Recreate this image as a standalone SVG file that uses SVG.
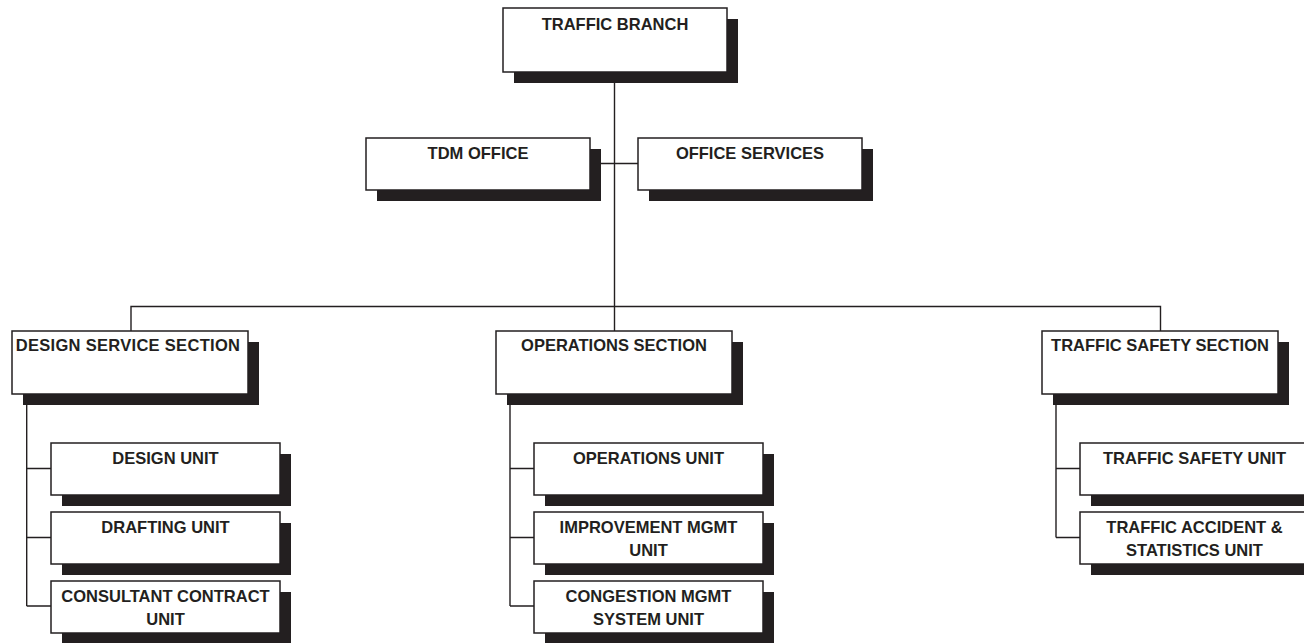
<svg xmlns="http://www.w3.org/2000/svg" width="1304" height="643" viewBox="0 0 1304 643">
<style>
.sh{fill:#231f20}
.bx{fill:#fff;stroke:#231f20;stroke-width:1.5}
.t{font-family:"Liberation Sans",Arial,sans-serif;font-weight:bold;font-size:16.5px;fill:#231f20;text-anchor:middle}
.c{fill:none;stroke:#231f20;stroke-width:1.4}
</style>
<rect width="1304" height="643" fill="#fff"/>
<g id="connectors">
<path class="c" d="M614.5 72V306.5M590 163.5H638M131 331V306.5H1160.5V331M614.5 306.5V331"/>
<path class="c" d="M26.7 405V606M26.7 468.5H51M26.7 537.5H51M26.7 606H51"/>
<path class="c" d="M510 405V606M510 468.5H534M510 537.5H534M510 606H534"/>
<path class="c" d="M1056 405V537.5M1056 468.5H1080M1056 537.5H1080"/>
</g>
<g id="traffic-branch"><rect class="sh" x="514" y="19" width="224" height="64"/><rect class="bx" x="503" y="8" width="224" height="64"/><text class="t" x="615" y="30">TRAFFIC BRANCH</text></g>
<g id="tdm-office"><rect class="sh" x="377" y="149" width="224" height="52"/><rect class="bx" x="366" y="138" width="224" height="52"/><text class="t" x="478" y="159">TDM OFFICE</text></g>
<g id="office-services"><rect class="sh" x="649" y="149" width="224" height="52"/><rect class="bx" x="638" y="138" width="224" height="52"/><text class="t" x="750" y="159">OFFICE SERVICES</text></g>
<g id="design-service-section"><rect class="sh" x="23" y="342" width="236" height="63"/><rect class="bx" x="12" y="331" width="236" height="63"/><text class="t" x="128" y="351" letter-spacing="0.3">DESIGN SERVICE SECTION</text></g>
<g id="operations-section"><rect class="sh" x="507" y="342" width="236" height="63"/><rect class="bx" x="496" y="331" width="236" height="63"/><text class="t" x="614" y="351">OPERATIONS SECTION</text></g>
<g id="traffic-safety-section"><rect class="sh" x="1053" y="342" width="236" height="63"/><rect class="bx" x="1042" y="331" width="236" height="63"/><text class="t" x="1160" y="351">TRAFFIC SAFETY SECTION</text></g>
<g id="design-unit"><rect class="sh" x="62" y="454" width="229" height="52"/><rect class="bx" x="51" y="443" width="229" height="52"/><text class="t" x="165.5" y="464">DESIGN UNIT</text></g>
<g id="drafting-unit"><rect class="sh" x="62" y="523" width="229" height="52"/><rect class="bx" x="51" y="512" width="229" height="52"/><text class="t" x="165.5" y="533">DRAFTING UNIT</text></g>
<g id="consultant-contract-unit"><rect class="sh" x="62" y="592" width="229" height="52"/><rect class="bx" x="51" y="581" width="229" height="52"/><text class="t" x="165.5" y="602">CONSULTANT CONTRACT</text><text class="t" x="165.5" y="625">UNIT</text></g>
<g id="operations-unit"><rect class="sh" x="545" y="454" width="229" height="52"/><rect class="bx" x="534" y="443" width="229" height="52"/><text class="t" x="648.5" y="464">OPERATIONS UNIT</text></g>
<g id="improvement-mgmt-unit"><rect class="sh" x="545" y="523" width="229" height="52"/><rect class="bx" x="534" y="512" width="229" height="52"/><text class="t" x="648.5" y="533">IMPROVEMENT MGMT</text><text class="t" x="648.5" y="556">UNIT</text></g>
<g id="congestion-mgmt-system-unit"><rect class="sh" x="545" y="592" width="229" height="52"/><rect class="bx" x="534" y="581" width="229" height="52"/><text class="t" x="648.5" y="602">CONGESTION MGMT</text><text class="t" x="648.5" y="625">SYSTEM UNIT</text></g>
<g id="traffic-safety-unit"><rect class="sh" x="1091" y="454" width="229" height="52"/><rect class="bx" x="1080" y="443" width="229" height="52"/><text class="t" x="1194.5" y="464">TRAFFIC SAFETY UNIT</text></g>
<g id="traffic-accident-statistics-unit"><rect class="sh" x="1091" y="523" width="229" height="52"/><rect class="bx" x="1080" y="512" width="229" height="52"/><text class="t" x="1194.5" y="533">TRAFFIC ACCIDENT &amp;</text><text class="t" x="1194.5" y="556">STATISTICS UNIT</text></g>
</svg>
